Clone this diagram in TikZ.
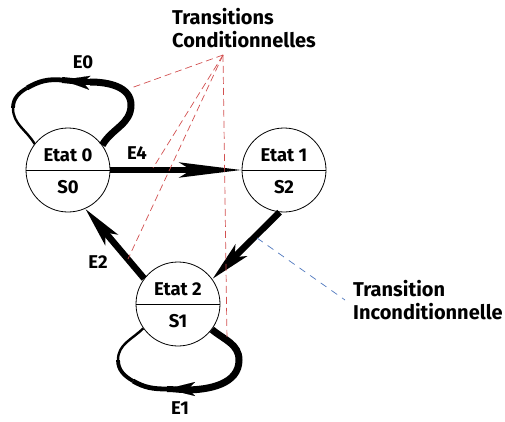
\documentclass[tikz,border=0pt]{standalone}
\usepackage{fontspec}
\setmainfont{Fira Sans}
\usetikzlibrary{arrows.meta}
\definecolor{condred}{RGB}{210,80,80}
\definecolor{uncondblue}{RGB}{80,120,190}
\begin{document}
\begin{tikzpicture}[x=1pt,y=1pt,
  state/.style={circle,draw,line width=0.8pt,minimum size=84pt,inner sep=0pt,fill=white},
  lbl/.style={font=\fontsize{18.5}{22}\selectfont\bfseries,inner sep=0pt},
  note/.style={font=\fontsize{20}{23}\selectfont\bfseries,inner sep=0pt,align=left,anchor=north west},
  flow/.style={line width=6.5pt},
  bighead/.style={-{Stealth[length=62pt,width=15pt,inset=12pt]}},
  midhead/.style={-{Stealth[length=40pt,width=16pt,inset=9pt]}},
  loophead/.style={-{Stealth[length=28pt,width=14pt,inset=7pt]},line width=0.1pt},
  cond/.style={draw=condred,line width=0.7pt,dash pattern=on 7pt off 4pt},
  uncond/.style={draw=uncondblue,line width=0.7pt,dash pattern=on 7pt off 6pt}
]
\useasboundingbox (0,0) rectangle (505,421);

% states
\node[state] (s0) at (68,251) {};
\node[state] (s1) at (284,251) {};
\node[state] (s2) at (178,117) {};
\foreach \s in {s0,s1,s2} \draw[line width=0.8pt] (\s.west) -- (\s.east);

\node[lbl] (s0a) at ([yshift=15]s0.center) {Etat 0};
\node[lbl] (s0b) at ([yshift=-17]s0.center) {S0};
\node[lbl] (s1a) at ([yshift=15]s1.center) {Etat 1};
\node[lbl] (s1b) at ([yshift=-17]s1.center) {S2};
\node[lbl] (s2a) at ([yshift=15]s2.center) {Etat 2};
\node[lbl] (s2b) at ([yshift=-17]s2.center) {S1};

% straight transitions
\draw[flow,bighead] (s0.east) -- (s1.west);
\draw[flow,midhead] (s2.143) -- (s0.-66);
\draw[flow,midhead] (s1.-96) -- (s2.36);

% loop on Etat 0
\coordinate (a1) at (s0.36);
\coordinate (a2) at (131,316);
\coordinate (a3) at (90,339);
\coordinate (at) at (62,341);
\coordinate (am) at (27,333);
\coordinate (a4) at (13,313);
\coordinate (a5) at (s0.142);
\draw[line width=7pt] (a1) to[out=60,in=-90] (a2) to[out=90,in=0] (a3);
\draw[line width=6pt] (a3) to[out=180,in=-5] (at);
\draw[line width=4.8pt] (at) to[out=175,in=30] (am);
\draw[line width=3.8pt] (am) to[out=210,in=90] (a4);
\draw[line width=2.4pt] (a4) to[out=-90,in=120] (a5);
\draw[loophead] ([xshift=1pt,yshift=-0.1pt]at) -- (at);

% loop on Etat 2
\coordinate (b1) at (s2.-37);
\coordinate (b2) at (239,61);
\coordinate (b3) at (185,31);
\coordinate (bt) at (167,32);
\coordinate (bm) at (133,40);
\coordinate (b4) at (118,61);
\coordinate (b5) at (s2.-145);
\draw[line width=7pt] (b1) to[out=-40,in=90] (b2) to[out=-90,in=0] (b3);
\draw[line width=6pt] (b3) to[out=180,in=0] (bt);
\draw[line width=4.8pt] (bt) to[out=180,in=-30] (bm);
\draw[line width=3.8pt] (bm) to[out=150,in=-90] (b4);
\draw[line width=2.4pt] (b4) to[out=90,in=-135] (b5);
\draw[loophead] ([xshift=1pt]bt) -- (bt);

% transition labels
\node[lbl] (e0) at (83,359) {E0};
\node[lbl] (e4) at (137,268) {E4};
\node[lbl] (e2) at (98,159) {E2};
\node[lbl] (e1) at (180,13) {E1};

% annotations
\node[note] (tc) at (172,413) {Transitions\\Conditionnelles};
\node[note] (ti) at (353,141) {Transition\\Inconditionnelle};

\coordinate (apex) at (223,366);
\coordinate (c0) at (131,333);
\coordinate (c4) at (153,253);
\coordinate (c2) at (128,162);
\coordinate (c1) at (227,81);
\draw[cond] (apex) -- (c0);
\draw[cond] (apex) -- (c4);
\draw[cond] (apex) -- (c2);
\draw[cond] (apex) -- (c1);

\coordinate (u0) at (257,183);
\coordinate (u1) at (345,121);
\draw[uncond] (u0) -- (u1);
\end{tikzpicture}
\end{document}
